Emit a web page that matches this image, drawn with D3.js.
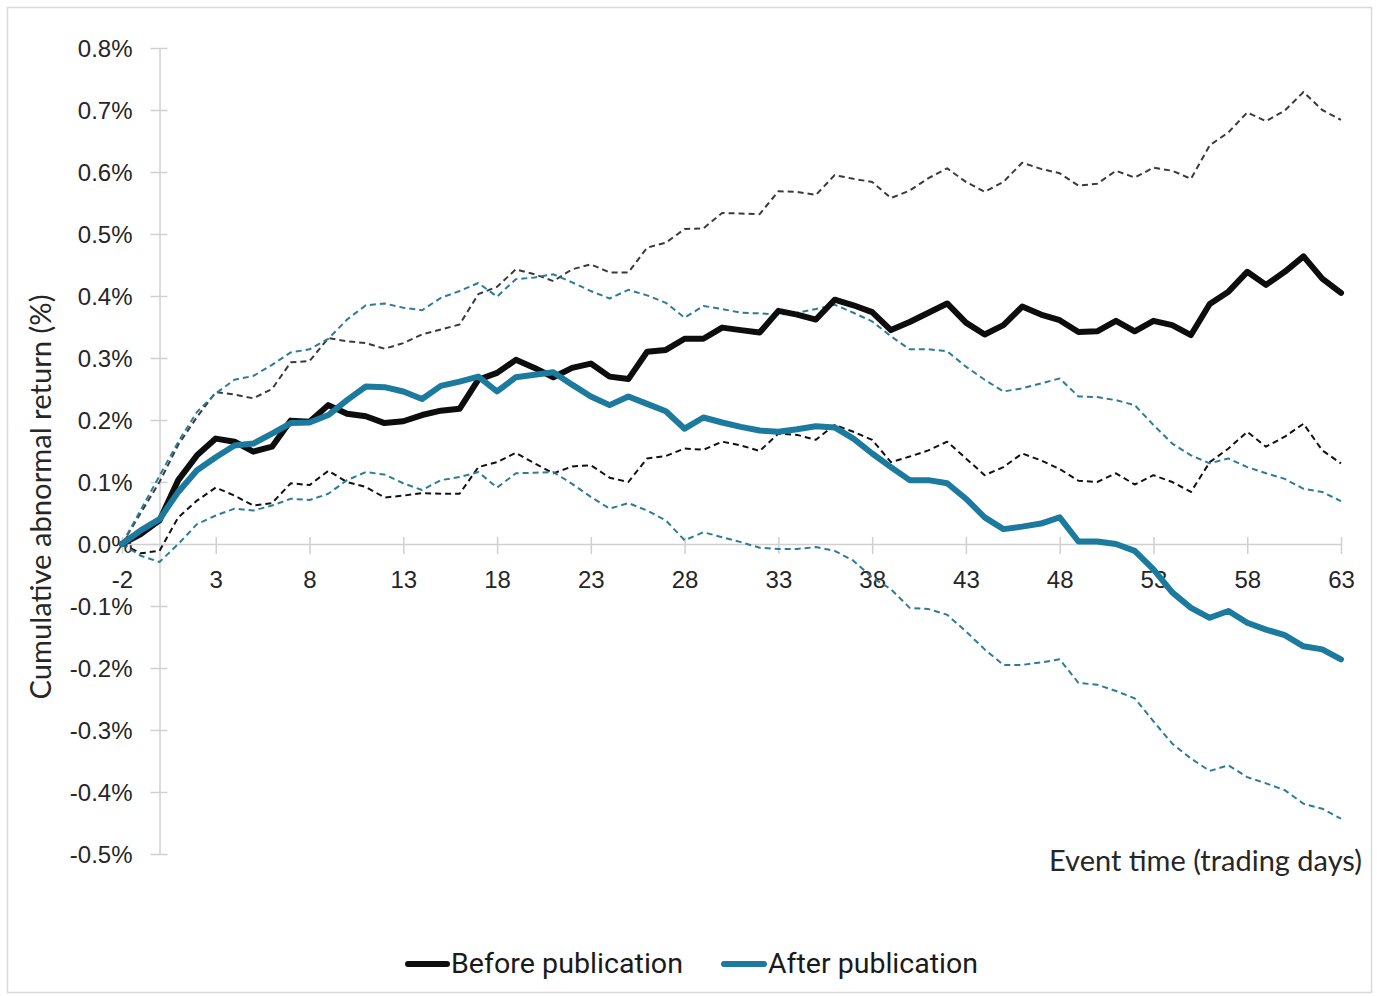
<!DOCTYPE html>
<html>
<head>
<meta charset="utf-8">
<script src="https://cdn.jsdelivr.net/npm/d3@7"></script>
<style>
  html, body { margin: 0; padding: 0; background: #fff; }
  svg { display: block; }
</style>
</head>
<body>
<svg id="chart" width="1377" height="996"></svg>
<script>
// Event days -2 .. 63
const days = d3.range(-2, 64);

// Cumulative abnormal return (%), with confidence bands
const beforeMean = [0, 0.016, 0.038, 0.103, 0.143, 0.17, 0.165, 0.149, 0.157, 0.199, 0.197, 0.224, 0.21, 0.206, 0.195, 0.198, 0.208, 0.215, 0.218, 0.265, 0.276, 0.297, 0.284, 0.269, 0.284, 0.291, 0.27, 0.266, 0.31, 0.313, 0.331, 0.331, 0.349, 0.345, 0.341, 0.376, 0.37, 0.362, 0.394, 0.385, 0.374, 0.345, 0.358, 0.373, 0.388, 0.357, 0.338, 0.353, 0.383, 0.37, 0.361, 0.342, 0.343, 0.36, 0.343, 0.36, 0.353, 0.337, 0.387, 0.407, 0.439, 0.418, 0.439, 0.464, 0.428, 0.405];
const beforeUpper = [0, 0.05, 0.1, 0.16, 0.205, 0.245, 0.241, 0.235, 0.25, 0.293, 0.295, 0.332, 0.327, 0.324, 0.315, 0.324, 0.338, 0.346, 0.354, 0.403, 0.415, 0.443, 0.435, 0.424, 0.443, 0.451, 0.438, 0.438, 0.478, 0.486, 0.508, 0.509, 0.534, 0.533, 0.532, 0.569, 0.568, 0.563, 0.595, 0.589, 0.584, 0.558, 0.57, 0.59, 0.606, 0.584, 0.568, 0.584, 0.615, 0.605, 0.598, 0.578, 0.581, 0.602, 0.591, 0.607, 0.602, 0.589, 0.643, 0.664, 0.696, 0.682, 0.699, 0.729, 0.7, 0.684];
const beforeLower = [0, -0.015, -0.011, 0.043, 0.07, 0.091, 0.078, 0.062, 0.066, 0.098, 0.095, 0.118, 0.1, 0.092, 0.075, 0.078, 0.082, 0.081, 0.081, 0.124, 0.132, 0.147, 0.13, 0.114, 0.125, 0.127, 0.107, 0.1, 0.138, 0.142, 0.154, 0.152, 0.165, 0.159, 0.15, 0.178, 0.176, 0.168, 0.192, 0.181, 0.168, 0.132, 0.141, 0.151, 0.165, 0.138, 0.111, 0.124, 0.146, 0.135, 0.121, 0.102, 0.1, 0.114, 0.096, 0.111, 0.1, 0.084, 0.132, 0.154, 0.181, 0.157, 0.173, 0.194, 0.151, 0.13];
const afterMean = [0, 0.022, 0.04, 0.084, 0.119, 0.14, 0.159, 0.162, 0.178, 0.195, 0.196, 0.208, 0.232, 0.254, 0.253, 0.246, 0.234, 0.255, 0.262, 0.27, 0.246, 0.269, 0.273, 0.277, 0.257, 0.238, 0.224, 0.238, 0.226, 0.214, 0.186, 0.204, 0.196, 0.189, 0.183, 0.181, 0.185, 0.19, 0.188, 0.17, 0.146, 0.124, 0.103, 0.103, 0.098, 0.073, 0.043, 0.024, 0.028, 0.033, 0.043, 0.004, 0.004, 0.0, -0.011, -0.041, -0.078, -0.103, -0.119, -0.108, -0.127, -0.138, -0.147, -0.165, -0.17, -0.186];
const afterUpper = [0, 0.055, 0.11, 0.165, 0.213, 0.243, 0.265, 0.271, 0.289, 0.309, 0.314, 0.331, 0.362, 0.385, 0.388, 0.381, 0.377, 0.397, 0.408, 0.421, 0.399, 0.427, 0.43, 0.435, 0.422, 0.408, 0.396, 0.41, 0.401, 0.389, 0.365, 0.384, 0.379, 0.373, 0.372, 0.37, 0.373, 0.379, 0.386, 0.373, 0.359, 0.335, 0.314, 0.314, 0.311, 0.286, 0.265, 0.246, 0.251, 0.259, 0.267, 0.238, 0.237, 0.232, 0.224, 0.192, 0.162, 0.143, 0.13, 0.138, 0.124, 0.114, 0.105, 0.089, 0.084, 0.069];
const afterLower = [0, -0.019, -0.029, 0.0, 0.032, 0.046, 0.057, 0.054, 0.062, 0.073, 0.071, 0.081, 0.103, 0.116, 0.112, 0.098, 0.087, 0.103, 0.108, 0.116, 0.091, 0.114, 0.115, 0.116, 0.097, 0.076, 0.057, 0.066, 0.054, 0.038, 0.006, 0.019, 0.011, 0.003, -0.006, -0.008, -0.008, -0.005, -0.011, -0.027, -0.054, -0.073, -0.103, -0.105, -0.114, -0.141, -0.17, -0.195, -0.195, -0.191, -0.186, -0.224, -0.227, -0.237, -0.249, -0.286, -0.322, -0.346, -0.366, -0.357, -0.376, -0.386, -0.397, -0.419, -0.427, -0.443];

const xTicks = [-2, 3, 8, 13, 18, 23, 28, 33, 38, 43, 48, 53, 58, 63];
const yTicks = [-0.5, -0.4, -0.3, -0.2, -0.1, 0, 0.1, 0.2, 0.3, 0.4, 0.5, 0.6, 0.7, 0.8];

const legendItems = ["Before publication", "After publication"];
const yTitle = "Cumulative abnormal return (%)";
const xTitle = "Event time (trading days)";

const BLACK = "#0d0d0d";
const BLUE = "#1b7a9d";

const svg = d3.select("#chart");

// chart frame
svg.append("rect")
  .attr("x", 7.5).attr("y", 7.5)
  .attr("width", 1364).attr("height", 985)
  .attr("fill", "#fff").attr("stroke", "#d9d9d9").attr("stroke-width", 1.5);

const x = d3.scaleLinear().domain([-2, 63]).range([122, 1341]);
const y = d3.scaleLinear().domain([-0.5, 0.8]).range([854, 48]);

const axisColor = "#d0d0d0";
const pct = d => d.toFixed(1) + "%";

// vertical axis, crossing at day 0
const yAxis = svg.append("g")
  .attr("transform", `translate(${x(0)},0)`)
  .call(d3.axisLeft(y).tickValues(yTicks).tickSize(0).tickFormat(() => ""));
yAxis.select(".domain").attr("stroke", axisColor).attr("stroke-width", 1.5);
yAxis.selectAll(".tick").append("line")
  .attr("x1", -9).attr("x2", 8).attr("y1", 0).attr("y2", 0)
  .attr("stroke", axisColor).attr("stroke-width", 1.5);
yAxis.selectAll(".tick").append("text")
  .attr("x", -27).attr("dy", "0.35em")
  .attr("text-anchor", "end")
  .attr("fill", "#262626")
  .style("font-family", "'Liberation Sans', Arial, sans-serif")
  .style("font-size", "24px")
  .text(d => pct(d));

// horizontal axis at zero
const xAxis = svg.append("g")
  .attr("transform", `translate(0,${y(0)})`)
  .call(d3.axisBottom(x).tickValues(xTicks).tickSize(0).tickFormat(() => ""));
xAxis.select(".domain").attr("stroke", axisColor).attr("stroke-width", 1.5);
xAxis.selectAll(".tick").append("line")
  .attr("x1", 0).attr("x2", 0).attr("y1", -7).attr("y2", 10)
  .attr("stroke", axisColor).attr("stroke-width", 1.5);
xAxis.selectAll(".tick").append("text")
  .attr("y", 36).attr("dy", "0.35em")
  .attr("text-anchor", "middle")
  .attr("fill", "#262626")
  .style("font-family", "'Liberation Sans', Arial, sans-serif")
  .style("font-size", "24px")
  .text(d => String(d));

// series
const line = d3.line().x((d, i) => x(days[i])).y(d => y(d));

const series = [
  { values: beforeUpper, color: "#3a3a3a", width: 2, dash: "6,4" },
  { values: beforeLower, color: "#111", width: 2, dash: "6,4" },
  { values: afterUpper, color: "#2c7c99", width: 2, dash: "6,4" },
  { values: afterLower, color: "#2c7c99", width: 2, dash: "6,4" },
  { values: beforeMean, color: BLACK, width: 6, dash: null },
  { values: afterMean, color: BLUE, width: 6, dash: null }
];

svg.append("g").selectAll("path")
  .data(series)
  .join("path")
  .attr("d", d => line(d.values))
  .attr("fill", "none")
  .attr("stroke", d => d.color)
  .attr("stroke-width", d => d.width)
  .attr("stroke-dasharray", d => d.dash)
  .attr("stroke-linejoin", "round")
  .attr("stroke-linecap", d => d.dash ? "butt" : "round");

// axis titles
svg.append("text")
  .attr("transform", `translate(51,497) rotate(-90)`)
  .attr("text-anchor", "middle")
  .attr("fill", "#262626")
  .style("font-family", "Lato, 'Open Sans', sans-serif")
  .style("font-size", "28px")
  .attr("textLength", 405)
  .attr("lengthAdjust", "spacingAndGlyphs")
  .text(yTitle);

svg.append("text")
  .attr("x", 1049).attr("y", 871)
  .attr("fill", "#262626")
  .style("font-family", "Lato, 'Open Sans', sans-serif")
  .style("font-size", "28px")
  .attr("textLength", 313)
  .attr("lengthAdjust", "spacingAndGlyphs")
  .text(xTitle);

// legend
const legendPos = [
  { x1: 408, x2: 447, tx: 451, w: 232, color: BLACK },
  { x1: 724, x2: 764, tx: 768, w: 210, color: BLUE }
];
const lg = svg.append("g").selectAll("g")
  .data(legendItems)
  .join("g");
lg.append("line")
  .attr("x1", (d, i) => legendPos[i].x1).attr("x2", (d, i) => legendPos[i].x2)
  .attr("y1", 964).attr("y2", 964)
  .attr("stroke", (d, i) => legendPos[i].color)
  .attr("stroke-width", 6)
  .attr("stroke-linecap", "round");
lg.append("text")
  .attr("x", (d, i) => legendPos[i].tx).attr("y", 973)
  .attr("textLength", (d, i) => legendPos[i].w)
  .attr("lengthAdjust", "spacingAndGlyphs")
  .attr("fill", "#1a1a1a")
  .style("font-family", "Roboto, sans-serif")
  .style("font-size", "27px")
  .text(d => d);
</script>
</body>
</html>
